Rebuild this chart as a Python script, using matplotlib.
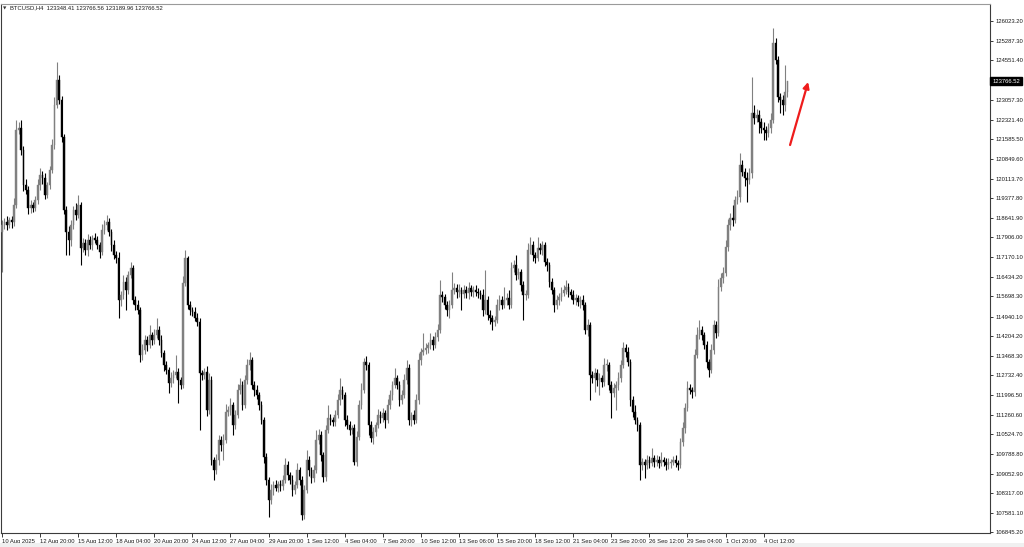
import matplotlib
matplotlib.use("Agg")
import matplotlib.pyplot as plt
import numpy as np
from matplotlib.patches import Rectangle

plt.rcParams["font.family"] = ["Liberation Sans", "DejaVu Sans"]

# --- BTCUSD H4 (one value per 4h bar) ---
FIRST_OPEN = 118110

CLOSES = [
    118373, 118486, 118373, 118561, 118486, 119123, 121936, 122011, 121186, 119873,
    119686, 119011, 119123, 119011, 119311, 119873, 120248, 120136, 119498, 119873,
    120436, 121373, 122873, 123811, 123061, 121673, 118936, 118111, 117811, 118373,
    118936, 118748, 119123, 117511, 117698, 117436, 117811, 117623, 117886, 117811,
    117623, 117361, 118186, 118373, 118486, 118111, 117623, 117248, 117136, 115561,
    115748, 116236, 115936, 116498, 116761, 115561, 115373, 115186, 113498, 113686,
    114061, 113873, 114248, 114061, 114248, 114436, 114061, 113573, 113123, 112936,
    112448, 112636, 112748, 112861, 112561, 112373, 116198, 117136, 115373, 115186,
    115111, 114886, 114736, 112823, 112748, 112861, 111436, 112561, 109561, 109186,
    109561, 110311, 110123, 110311, 111361, 111436, 111623, 110873, 111248, 112186,
    112373, 111623, 112561, 113123, 113311, 112373, 112186, 111998, 111623, 111061,
    109673, 108811, 108061, 108436, 108623, 108511, 108661, 108586, 108811, 109373,
    108998, 108811, 108436, 108623, 109186, 108811, 107498, 108436, 109561, 109186,
    108886, 109186, 110311, 110498, 109748, 108923, 110686, 111136, 111061, 110986,
    111248, 111811, 112186, 111998, 111061, 110873, 110686, 110761, 109486, 110423,
    111623, 112186, 113236, 113123, 110873, 110386, 110611, 110873, 111248, 111136,
    111323, 111061, 111623, 111998, 112373, 112636, 112373, 111811, 111998, 112561,
    113011, 111061, 111248, 111061, 111811, 113311, 113611, 113686, 113761, 113873,
    114061, 113873, 114173, 114436, 115748, 115673, 115373, 115186, 115373, 115936,
    116011, 115861, 115936, 115786, 115936, 115823, 116011, 115861, 115936, 115861,
    115823, 115748, 115186, 115561, 114998, 114886, 114736, 114811, 115373, 115561,
    115373, 115561, 115636, 115373, 116761, 116873, 116498, 116611, 116123, 115748,
    115748, 117436, 117623, 117248, 117136, 117511, 117436, 117623, 116986, 116873,
    116236, 115936, 115373, 115561, 115673, 115823, 115936, 116048, 115861, 115748,
    115561, 115636, 115486, 115561, 115373, 114436, 114623, 112748, 112636, 112823,
    112561, 112636, 112486, 113123, 113123, 112373, 112073, 112261, 112373, 112636,
    113123, 113761, 113611, 113236, 111811, 111361, 111061, 110873, 109373, 109486,
    109373, 109561, 109448, 109636, 109486, 109561, 109448, 109561, 109486, 109373,
    109448, 109486, 109561, 109448, 109373, 110236, 110761, 111511, 112261, 112186,
    112111, 113498, 114248, 114436, 114248, 113873, 113236, 112936, 113686, 114623,
    114323, 116048, 116386, 116573, 117548, 118373, 118636, 118561, 119311, 119423,
    120623, 120361, 120136, 120061, 120323, 122573, 122386, 122498, 122236, 122011,
    121936, 121823, 122011, 122311, 125198, 124561, 123173, 123061, 122873, 123348.41,
    123766.52,
]

# wick length above the body / below the body, in USD
UP_WICK = [
    190, 150, 225, 110, 150, 260, 375, 225, 300, 150,
    225, 150, 190, 110, 150, 225, 260, 150, 190, 110,
    150, 225, 300, 675, 190, 150, 110, 150, 225, 190,
    150, 260, 375, 110, 190, 150, 225, 150, 110, 190,
    150, 110, 225, 190, 260, 150, 110, 190, 150, 225,
    150, 260, 190, 150, 225, 110, 150, 190, 110, 225,
    190, 150, 375, 110, 225, 450, 150, 190, 110, 150,
    110, 225, 190, 640, 150, 110, 260, 300, 75, 150,
    110, 190, 190, 150, 110, 150, 225, 260, 150, 110,
    225, 190, 150, 225, 300, 150, 260, 110, 190, 225,
    260, 150, 190, 225, 300, 110, 150, 190, 110, 150,
    110, 150, 110, 225, 150, 190, 110, 150, 190, 260,
    150, 110, 190, 150, 260, 110, 150, 190, 375, 150,
    110, 190, 375, 225, 150, 110, 190, 490, 150, 110,
    190, 225, 450, 150, 110, 190, 150, 110, 150, 225,
    190, 260, 150, 225, 110, 150, 190, 110, 225, 150,
    190, 110, 225, 190, 150, 375, 110, 150, 190, 225,
    300, 150, 110, 190, 225, 260, 150, 640, 190, 110,
    260, 150, 190, 225, 560, 150, 110, 150, 190, 675,
    190, 150, 225, 110, 190, 150, 225, 110, 150, 190,
    150, 110, 225, 1125, 150, 190, 110, 150, 225, 190,
    150, 490, 190, 300, 225, 190, 375, 150, 110, 150,
    190, 260, 300, 150, 110, 410, 190, 150, 110, 150,
    110, 150, 110, 190, 150, 225, 190, 260, 150, 110,
    190, 150, 110, 150, 190, 110, 225, 110, 150, 190,
    150, 190, 110, 260, 225, 110, 150, 190, 150, 225,
    190, 225, 150, 190, 110, 150, 260, 110, 110, 150,
    110, 190, 150, 375, 110, 190, 150, 300, 110, 150,
    190, 110, 150, 190, 110, 150, 225, 190, 260, 150,
    110, 225, 300, 375, 150, 110, 150, 110, 225, 190,
    150, 300, 190, 225, 260, 225, 190, 490, 150, 260,
    450, 190, 150, 225, 190, 1350, 300, 225, 190, 150,
    225, 150, 190, 260, 560, 190, 150, 150, 190, 1010,
    0.04,
]

DN_WICK = [
    1500, 150, 190, 110, 225, 150, 110, 150, 190, 225,
    150, 225, 190, 150, 110, 150, 190, 225, 150, 110,
    150, 110, 150, 110, 150, 190, 150, 860, 560, 225,
    150, 190, 110, 640, 150, 190, 225, 150, 190, 110,
    150, 225, 110, 150, 190, 150, 225, 150, 190, 675,
    225, 150, 750, 150, 110, 150, 190, 150, 260, 190,
    150, 225, 110, 190, 150, 110, 190, 150, 225, 150,
    375, 150, 190, 110, 860, 150, 110, 110, 150, 190,
    150, 110, 150, 2140, 190, 150, 225, 150, 190, 375,
    150, 190, 225, 560, 110, 150, 190, 375, 150, 110,
    150, 190, 110, 150, 190, 150, 225, 150, 190, 150,
    225, 190, 640, 150, 190, 110, 150, 190, 150, 110,
    190, 150, 225, 150, 110, 190, 190, 150, 110, 225,
    190, 150, 110, 150, 225, 190, 150, 110, 190, 150,
    150, 110, 190, 150, 225, 150, 190, 150, 110, 150,
    110, 150, 110, 190, 375, 150, 225, 150, 110, 190,
    150, 300, 110, 150, 190, 110, 150, 225, 150, 110,
    150, 190, 225, 150, 110, 150, 190, 110, 150, 190,
    150, 190, 110, 150, 110, 190, 150, 225, 300, 110,
    150, 225, 190, 600, 150, 190, 225, 150, 190, 150,
    190, 150, 225, 150, 190, 225, 300, 150, 110, 190,
    150, 110, 190, 150, 110, 150, 190, 150, 225, 940,
    190, 110, 150, 225, 190, 110, 150, 190, 150, 225,
    190, 150, 260, 150, 190, 150, 110, 150, 190, 150,
    150, 190, 150, 225, 190, 150, 225, 940, 190, 525,
    225, 560, 190, 150, 225, 190, 940, 150, 825, 190,
    150, 110, 190, 150, 225, 190, 150, 225, 560, 190,
    490, 150, 190, 110, 190, 150, 190, 110, 150, 190,
    150, 190, 110, 150, 190, 110, 150, 190, 110, 150,
    225, 150, 110, 150, 190, 150, 225, 260, 110, 150,
    190, 110, 150, 190, 110, 150, 190, 225, 110, 150,
    190, 150, 300, 825, 150, 190, 225, 150, 410, 190,
    375, 260, 150, 190, 110, 150, 190, 490, 375, 225,
    158.45,
]

X_LABELS = [
    "10 Aug 2025", "12 Aug 20:00", "15 Aug 12:00", "18 Aug 04:00", "20 Aug 20:00",
    "24 Aug 12:00", "27 Aug 04:00", "29 Aug 20:00", "1 Sep 12:00", "4 Sep 04:00",
    "7 Sep 20:00", "10 Sep 12:00", "13 Sep 06:00", "15 Sep 20:00", "18 Sep 12:00",
    "21 Sep 04:00", "23 Sep 20:00", "26 Sep 12:00", "29 Sep 04:00", "1 Oct 20:00",
    "4 Oct 12:00",
]
BARS_PER_LABEL = 16

Y_TICKS = [
    126023.20, 125287.30, 124551.40, 123057.30, 122321.40, 121585.50, 120849.60,
    120113.70, 119377.80, 118641.90, 117906.00, 117170.10, 116434.20, 115698.30,
    114940.10, 114204.20, 113468.30, 112732.40, 111996.50, 111260.60, 110524.70,
    109788.80, 109052.90, 108317.00, 107581.10, 106845.20,
]

SYMBOL = "BTCUSD,H4"
UP_COLOR = "#808080"
DOWN_COLOR = "#000000"
FS = 4.2

closes = np.array(CLOSES, dtype=float)
opens = np.concatenate([[FIRST_OPEN], closes[:-1]])
highs = np.maximum(opens, closes) + np.array(UP_WICK, dtype=float)
lows = np.minimum(opens, closes) - np.array(DN_WICK, dtype=float)
x = np.arange(len(closes))
up = closes >= opens

W, H = 1024, 547
fig = plt.figure(figsize=(W / 100, H / 100), dpi=100, facecolor="white")
fig.patches.append(Rectangle((0, 0), 1, 4 / H, transform=fig.transFigure,
                             facecolor="#f0f0f0", edgecolor="none", zorder=0))
ax = fig.add_axes([1 / W, 14 / H, 989 / W, 529 / H])
ax.set_facecolor("white")

# wicks then bodies
for mask, col in ((up, UP_COLOR), (~up, DOWN_COLOR)):
    ax.vlines(x[mask], lows[mask], highs[mask], color=col, lw=0.8, zorder=2)
    body = np.abs(closes - opens)[mask]
    body = np.maximum(body, 25)
    ax.bar(x[mask], body, bottom=np.minimum(opens, closes)[mask], width=0.7,
           color=col, edgecolor=col, linewidth=0.3, zorder=3)

ax.set_xlim(-0.42, 415.1)
ax.set_ylim(106823.5, 126661.0)

# axes decoration, terminal-like
for s in ax.spines.values():
    s.set_color("#3c3c3c")
    s.set_linewidth(0.8)
ax.spines["top"].set_color("#9a9a9a")

ax.yaxis.tick_right()
ax.set_yticks(Y_TICKS, [f"{v:.2f}" for v in Y_TICKS])
ax.tick_params(axis="y", direction="out", length=2.5, width=0.6, pad=1.5,
               labelsize=FS, colors="#1a1a1a")

xt = np.arange(len(X_LABELS)) * BARS_PER_LABEL
ax.set_xticks(xt, X_LABELS)
ax.tick_params(axis="x", direction="out", length=3, width=0.6, pad=1.0,
               labelsize=FS, colors="#1a1a1a")
for lbl in ax.get_xticklabels():
    lbl.set_horizontalalignment("left")

# current price tag
last = closes[-1]
ax.annotate(f"{last:.2f}", xy=(1.0, last), xycoords=("axes fraction", "data"),
            xytext=(1.6, 0), textcoords="offset points", va="center", ha="left",
            fontsize=FS, color="white",
            bbox=dict(boxstyle="square,pad=0.3", fc="black", ec="black"))

# header line
o, h, l, c = opens[-1], highs[-1], lows[-1], closes[-1]
fig.text(3 / W, 1 - 8 / H, "\u25bc", fontsize=3.2, va="center", ha="left",
         color="#333333", family="DejaVu Sans")
fig.text(10 / W, 1 - 8 / H, f"{SYMBOL}  {o:.2f} {h:.2f} {l:.2f} {c:.2f}",
         fontsize=FS, va="center", ha="left", color="#1a1a1a")

# red arrow drawn on the chart
ax.annotate("", xy=(338.7, 123736), xytext=(331.1, 121373),
            arrowprops=dict(arrowstyle="-|>", color="#ee1c1c", lw=1.6,
                            mutation_scale=9, shrinkA=0, shrinkB=0), zorder=5)

fig.savefig("out.png", dpi=100, facecolor=fig.get_facecolor())
